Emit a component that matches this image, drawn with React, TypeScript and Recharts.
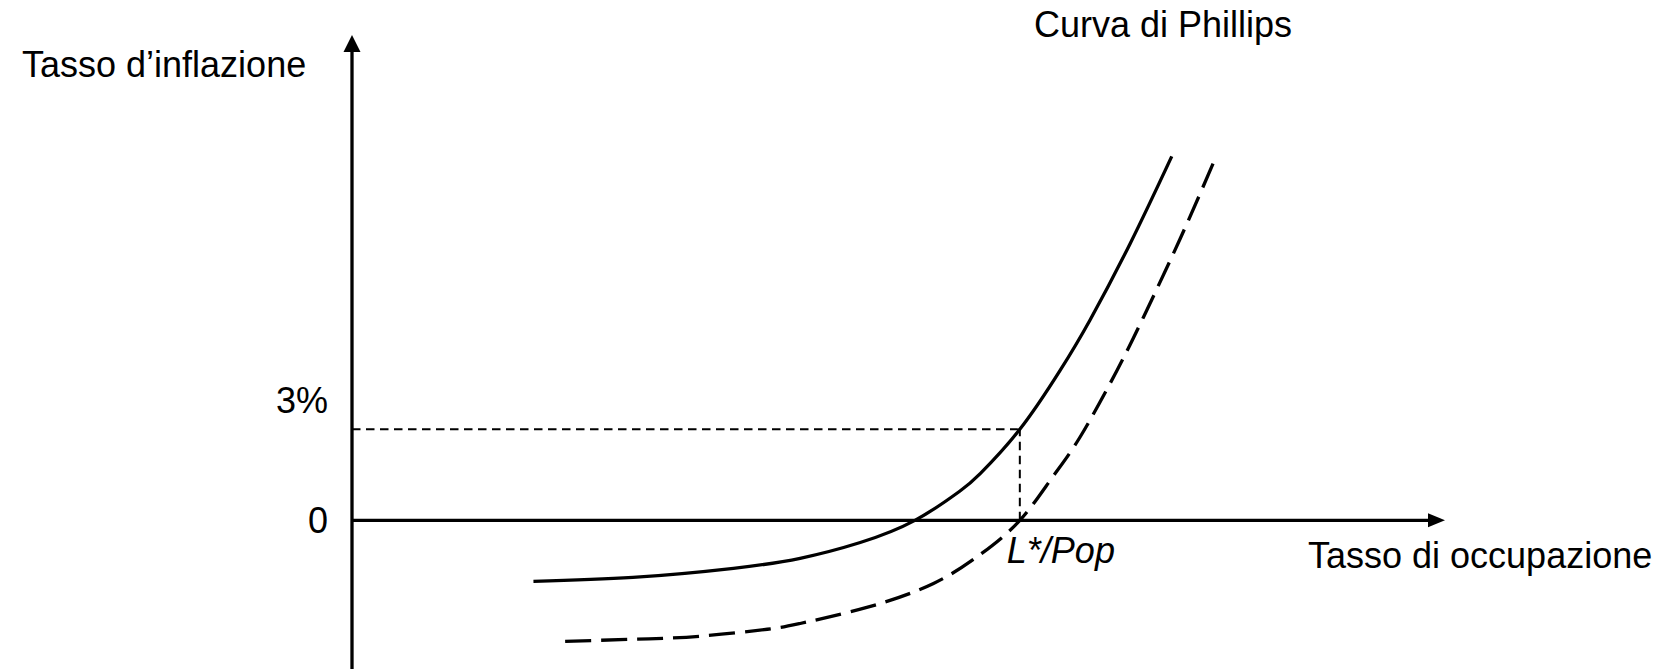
import React from 'react';
import { LineChart, Line, XAxis, YAxis, ReferenceLine, Label } from 'recharts';

// Phillips curve (solid) and shifted curve (dashed)
const solidX = [16.6, 25.7, 34.9, 41.0, 46.5, 51.5, 55.6, 57.5, 61.1, 64.8, 67.5, 71.2, 75.0];
const solidY = [-2.01, -1.88, -1.58, -1.25, -0.73, 0, 0.96, 1.55, 3.0, 4.95, 6.59, 9.13, 12.0];

const dashedX = [19.5, 25.7, 31.8, 38.0, 41.0, 47.1, 53.2, 57.5, 61.1, 64.0, 66.6, 70.0, 72.4, 75.8, 79.1];
const dashedY = [-3.99, -3.92, -3.82, -3.59, -3.4, -2.87, -2.08, -1.12, 0, 1.38, 2.74, 4.95, 6.69, 9.31, 12.03];

const yTicks = [0, 3];
const yTickLabels = ['0', '3%'];

const lStar = 61.1;
const targetInflation = 3;

const X_DOMAIN: [number, number] = [0, 100];
const Y_DOMAIN: [number, number] = [-4.9, 16];

const solidData = solidX.map((x, i) => ({ x, y: solidY[i] }));
const dashedData = dashedX.map((x, i) => ({ x, y: dashedY[i] }));

const FONT = '"Liberation Sans", Arial, sans-serif';

const Arrow = (props: any) => {
  const { x1, y1, x2, y2 } = props;
  const dx = x2 - x1;
  const dy = y2 - y1;
  const len = Math.sqrt(dx * dx + dy * dy) || 1;
  const ux = dx / len;
  const uy = dy / len;
  const head = 17;
  const half = Math.abs(uy) > 0.5 ? 8.5 : 7;
  const bx = x2 - ux * head;
  const by = y2 - uy * head;
  const px = -uy * half;
  const py = ux * half;
  return (
    <g>
      <line x1={x1} y1={y1} x2={bx + ux * 2} y2={by + uy * 2} stroke="#000" strokeWidth={3.3} />
      <polygon points={`${x2},${y2} ${bx + px},${by + py} ${bx - px},${by - py}`} fill="#000" />
    </g>
  );
};

const YTick = (props: any) => {
  const { x, y, payload } = props;
  const idx = yTicks.indexOf(payload.value);
  const label = idx >= 0 ? yTickLabels[idx] : String(payload.value);
  // the 3% label sits above its guide line, the 0 is centred on the axis
  const dy = payload.value === targetInflation ? -16 : 13;
  return (
    <text x={x} y={y} dy={dy} textAnchor="end" fontSize={36} fontFamily={FONT} fill="#000">
      {label}
    </text>
  );
};

const textStyle: React.CSSProperties = {
  position: 'absolute',
  fontFamily: FONT,
  fontSize: 36,
  lineHeight: '36px',
  color: '#000',
  whiteSpace: 'nowrap',
};

export default function App() {
  return (
    <div style={{ position: 'absolute', left: 0, top: 0, width: 1677, height: 669, background: '#fff' }}>
      <LineChart width={1677} height={669} margin={{ top: 35, right: 232, bottom: 0, left: 0 }}>
        <XAxis type="number" dataKey="x" domain={X_DOMAIN} hide allowDataOverflow />
        <YAxis
          type="number"
          dataKey="y"
          domain={Y_DOMAIN}
          ticks={yTicks}
          width={352}
          axisLine={false}
          tickLine={false}
          tickSize={0}
          tickMargin={24}
          tick={<YTick />}
          allowDataOverflow
        />
        <ReferenceLine
          segment={[{ x: X_DOMAIN[0], y: targetInflation }, { x: lStar, y: targetInflation }]}
          stroke="#000"
          strokeWidth={2}
          strokeDasharray="8.5 5.5"
        />
        <ReferenceLine
          segment={[{ x: lStar, y: 0 }, { x: lStar, y: targetInflation }]}
          stroke="#000"
          strokeWidth={2}
          strokeDasharray="8.5 5.5"
        >
          <Label
            content={(p: any) => {
              const vb = p.viewBox || {};
              const bottom = Math.max(vb.y, vb.y + (vb.height || 0));
              return (
                <text
                  x={vb.x - 13}
                  y={bottom + 43}
                  fontSize={36}
                  fontStyle="italic"
                  fontFamily={FONT}
                  fill="#000"
                >
                  L*/Pop
                </text>
              );
            }}
          />
        </ReferenceLine>
        <ReferenceLine
          segment={[{ x: X_DOMAIN[0], y: 0 }, { x: X_DOMAIN[1], y: 0 }]}
          shape={<Arrow />}
        />
        <ReferenceLine
          segment={[{ x: X_DOMAIN[0], y: Y_DOMAIN[0] }, { x: X_DOMAIN[0], y: Y_DOMAIN[1] }]}
          shape={<Arrow />}
        />
        <Line
          data={solidData}
          dataKey="y"
          type="natural"
          stroke="#000"
          strokeWidth={3.3}
          dot={false}
          activeDot={false}
          isAnimationActive={false}
        />
        <Line
          data={dashedData}
          dataKey="y"
          type="natural"
          stroke="#000"
          strokeWidth={3.3}
          strokeDasharray="26 10"
          dot={false}
          activeDot={false}
          isAnimationActive={false}
        />
      </LineChart>
      <div style={{ ...textStyle, left: 22, top: 47 }}>Tasso d’inflazione</div>
      <div style={{ ...textStyle, left: 1034, top: 7 }}>Curva di Phillips</div>
      <div style={{ ...textStyle, left: 1308, top: 538 }}>Tasso di occupazione</div>
    </div>
  );
}
